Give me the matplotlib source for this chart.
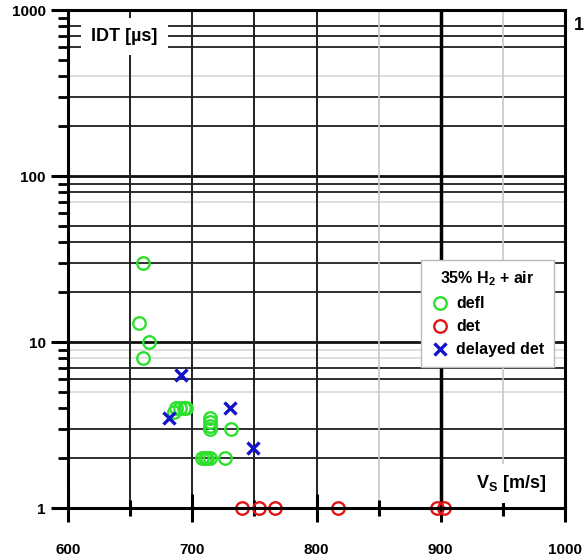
import matplotlib
matplotlib.use("Agg")
import matplotlib.pyplot as plt
from matplotlib.ticker import FixedLocator, NullFormatter

plt.rcParams['font.family'] = ['Liberation Sans', 'DejaVu Sans']
plt.rcParams['font.weight'] = 'bold'

# ---- data ----
defl_vs = [660, 657, 665, 660, 685, 687, 690, 693, 695, 714, 714, 714, 714, 731, 708, 710, 712, 714, 726]
defl_idt = [30, 13, 10, 8, 3.8, 4, 4, 4, 4, 3.5, 3.3, 3.1, 3.0, 3.0, 2, 2, 2, 2, 2]
det_vs = [740, 754, 767, 817, 897, 903]
det_idt = [1, 1, 1, 1, 1, 1]
delayed_vs = [691, 681, 730, 749]
delayed_idt = [6.3, 3.5, 4.0, 2.3]

x_ticks = [600, 700, 800, 900, 1000]
y_ticks = [1, 10, 100, 1000]
y_ticklabels = ['1', '10', '100', '1000']

# grid lines as seen in reference (value, shade)
hgrid_dark = [800, 700, 600, 300, 200, 90, 80, 50, 40, 30, 20, 7, 6, 3, 2]
hgrid_light = [400, 70, 9, 8, 5]
hgrid_major = [100, 10]
vgrid_dark = [650, 700, 750, 800]
vgrid_black = [900]
vgrid_light = [850, 950]

fig = plt.figure(figsize=(5.84, 5.57), dpi=100)
ax = fig.add_axes([68/584, 1-508/557, (565-68)/584, (508-10)/557])
ax.set_yscale('log')
ax.set_xlim(600, 1000)
ax.set_ylim(1, 1000)

for v in hgrid_light:
    ax.axhline(v, color='#d8d8d8', lw=1.2, zorder=1)
for v in hgrid_dark:
    ax.axhline(v, color='#202020', lw=1.3, zorder=1)
for v in hgrid_major:
    ax.axhline(v, color='#101010', lw=2.0, zorder=1)
for v in vgrid_light:
    ax.axvline(v, color='#c8c8c8', lw=1.2, zorder=1)
for v in vgrid_dark:
    ax.axvline(v, color='#202020', lw=1.4, zorder=1)
for v in vgrid_black:
    ax.axvline(v, color='#000000', lw=2.5, zorder=1)

ax.plot(defl_vs, defl_idt, linestyle='none', marker='o', ms=9, mfc='none',
        mec='#2de02d', mew=1.7, label='defl', zorder=4, clip_on=False)
ax.plot(det_vs, det_idt, linestyle='none', marker='o', ms=9, mfc='none',
        mec='#e01515', mew=1.7, label='det', zorder=4, clip_on=False)
ax.plot(delayed_vs, delayed_idt, linestyle='none', marker='x', ms=9,
        mec='#1212c8', mew=2.4, label='delayed det', zorder=5, clip_on=False)

for s in ax.spines.values():
    s.set_linewidth(2.2)
    s.set_color('black')
    s.set_zorder(6)

ax.xaxis.set_major_locator(FixedLocator(x_ticks))
ax.xaxis.set_minor_locator(FixedLocator([650, 750, 850, 950]))
ax.set_xticklabels([str(t) for t in x_ticks])
ax.yaxis.set_major_locator(FixedLocator(y_ticks))
ax.set_yticklabels(y_ticklabels)
ax.yaxis.set_minor_formatter(NullFormatter())
ax.tick_params(axis='x', which='major', direction='inout', length=20, width=2.2, labelsize=11, pad=15)
ax.tick_params(axis='x', which='minor', direction='inout', length=12, width=2.2)
ax.tick_params(axis='y', which='major', direction='out', length=12, width=2.2, labelsize=11, pad=4)
ax.tick_params(axis='y', which='minor', direction='out', length=7, width=2.0)
for lab in ax.get_xticklabels() + ax.get_yticklabels():
    lab.set_fontweight('bold')

ax.text(0.047, 0.946, 'IDT [\u00b5s]', transform=ax.transAxes, fontsize=13, fontweight='bold',
        ha='left', va='center', zorder=7,
        bbox=dict(boxstyle='square,pad=0.55', fc='white', ec='none'))
ax.text(0.82, 0.05, r'V$_\mathregular{S}$ [m/s]', transform=ax.transAxes, fontsize=13, fontweight='bold',
        ha='left', va='center', zorder=7,
        bbox=dict(boxstyle='square,pad=0.5', fc='white', ec='none'))

leg = ax.legend(loc='upper left', bbox_to_anchor=(0.694, 0.514), title=r'35% H$_\mathregular{2}$ + air',
                prop={'weight': 'bold', 'size': 11.5}, title_fontproperties={'weight': 'bold', 'size': 11.5},
                frameon=True, fancybox=False, edgecolor='#bbbbbb', framealpha=1,
                handletextpad=0.4, handlelength=1.2, labelspacing=0.5, borderpad=0.6)
leg.set_zorder(8)

fig.text(574/584, 1-25/557, '1', fontsize=13, fontweight='bold', ha='left', va='center')

fig.savefig('out.png', dpi=100)
